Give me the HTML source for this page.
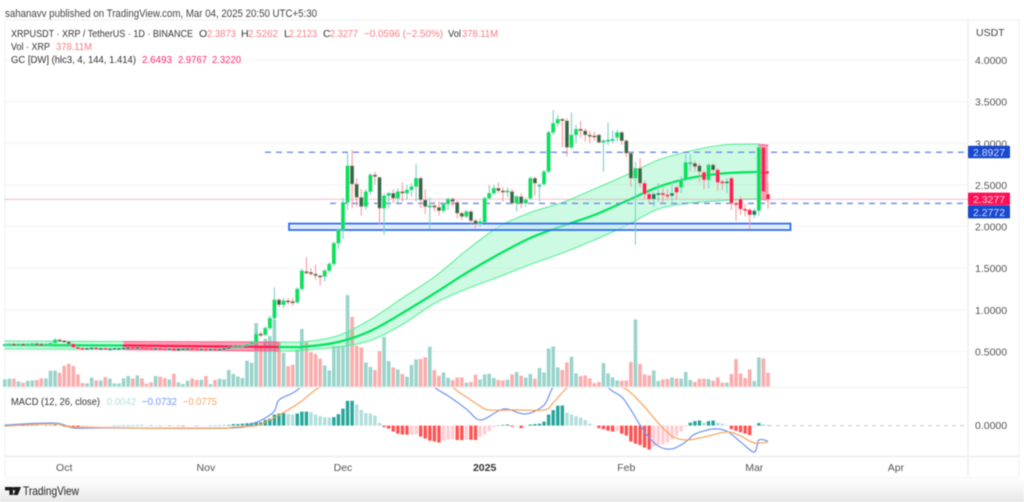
<!DOCTYPE html>
<html lang="en">
<head>
<meta charset="utf-8">
<title>XRPUSDT chart</title>
<style>
html,body{margin:0;padding:0;background:#fff;width:1024px;height:502px;overflow:hidden}
svg{display:block;filter:blur(0.5px);font-family:"Liberation Sans",sans-serif}
</style>
</head>
<body>
<svg id="chart" width="1024" height="502" viewBox="0 0 1024 502" xmlns="http://www.w3.org/2000/svg">
  <defs>
    <linearGradient id="footGrad" x1="0" y1="0" x2="0" y2="1">
      <stop offset="0" stop-color="#ffffff"/>
      <stop offset="1" stop-color="#e8e8e8"/>
    </linearGradient>
    <clipPath id="macdClip"><rect x="5" y="388" width="963" height="68"/></clipPath>
  </defs>
  <rect x="0" y="0" width="1024" height="502" fill="#ffffff"/>
  <rect x="0" y="478" width="1024" height="24" fill="url(#footGrad)"/>
  <g id="frame" stroke="#f0f0f0" fill="none">
    <line x1="5" y1="20" x2="1019" y2="20"/>
    <line x1="5" y1="20" x2="5" y2="478"/>
    <line x1="968" y1="20" x2="968" y2="478" stroke="#e8e8e8"/>
    <line x1="1019" y1="20" x2="1019" y2="478"/>
    <line x1="5" y1="387.5" x2="968" y2="387.5"/>
    <line x1="5" y1="456.5" x2="1019" y2="456.5" stroke-width="2"/>
    <line x1="5" y1="478" x2="1019" y2="478" stroke="#f5f5f5"/>
  </g>
  <g id="grid"></g>
  <g id="volume"></g>
  <g id="band"></g>
  <g id="levels">
    <line x1="265" y1="152.3" x2="968" y2="152.3" stroke="#7394ea" stroke-width="1.5" stroke-dasharray="6 5"/>
    <line x1="5" y1="199.3" x2="968" y2="199.3" stroke="#ff7fa0" stroke-width="1.2" stroke-dasharray="1 1"/>
    <line x1="330" y1="203.4" x2="968" y2="203.4" stroke="#7394ea" stroke-width="1.5" stroke-dasharray="6 5"/>
  </g>
  <rect x="289" y="223.6" width="501.5" height="6.4" fill="#cfe0ff" fill-opacity="0.5" stroke="#2f6ff0" stroke-width="1.8"/>
  <g id="candles"></g>
  <g id="hist"></g>
  <line x1="760" y1="425.6" x2="968" y2="425.6" stroke="#c8c8c8" stroke-width="1" stroke-dasharray="4 4"/>
  <g id="macdLines" clip-path="url(#macdClip)"></g>

  <text x="5" y="17" font-size="11" fill="#444" textLength="312" lengthAdjust="spacingAndGlyphs">sahanavv published on TradingView.com, Mar 04, 2025 20:50 UTC+5:30</text>

  <g font-size="10.5">
    <text x="11" y="37" fill="#333" textLength="182" lengthAdjust="spacingAndGlyphs">XRPUSDT · XRP / TetherUS · 1D · BINANCE</text>
    <text x="199" y="37" fill="#333">O</text><text x="207" y="37" fill="#f77c80" textLength="29" lengthAdjust="spacingAndGlyphs">2.3873</text>
    <text x="241" y="37" fill="#333">H</text><text x="248" y="37" fill="#f77c80" textLength="30" lengthAdjust="spacingAndGlyphs">2.5262</text>
    <text x="284" y="37" fill="#333">L</text><text x="289" y="37" fill="#f77c80" textLength="28" lengthAdjust="spacingAndGlyphs">2.2123</text>
    <text x="323" y="37" fill="#333">C</text><text x="330" y="37" fill="#f77c80" textLength="28" lengthAdjust="spacingAndGlyphs">2.3277</text>
    <text x="364" y="37" fill="#f77c80" textLength="79" lengthAdjust="spacingAndGlyphs">−0.0596 (−2.50%)</text>
    <text x="448" y="37" fill="#333" textLength="13" lengthAdjust="spacingAndGlyphs">Vol</text><text x="462" y="37" fill="#f77c80" textLength="36" lengthAdjust="spacingAndGlyphs">378.11M</text>
    <text x="11" y="50" fill="#333" textLength="39" lengthAdjust="spacingAndGlyphs">Vol · XRP</text>
    <text x="56" y="50" fill="#f77c80" textLength="36" lengthAdjust="spacingAndGlyphs">378.11M</text>
    <text x="11" y="63" fill="#333" textLength="125" lengthAdjust="spacingAndGlyphs">GC [DW] (hlc3, 4, 144, 1.414)</text>
    <text x="142" y="63" fill="#ff2a6d" textLength="30" lengthAdjust="spacingAndGlyphs">2.6493</text>
    <text x="178" y="63" fill="#ff2a6d" textLength="29" lengthAdjust="spacingAndGlyphs">2.9767</text>
    <text x="212" y="63" fill="#ff2a6d" textLength="29" lengthAdjust="spacingAndGlyphs">2.3220</text>
  </g>

  <g font-size="10.5">
    <text x="11" y="405" fill="#333" textLength="89" lengthAdjust="spacingAndGlyphs">MACD (12, 26, close)</text>
    <text x="107" y="405" fill="#b2dfdb" textLength="29" lengthAdjust="spacingAndGlyphs">0.0042</text>
    <text x="142" y="405" fill="#6f94f5" textLength="35" lengthAdjust="spacingAndGlyphs">−0.0732</text>
    <text x="183" y="405" fill="#f7a35c" textLength="34" lengthAdjust="spacingAndGlyphs">−0.0775</text>
  </g>

  <text x="976" y="36" font-size="10.5" fill="#444">USDT</text>
  <g id="priceAxis"></g>
  <g id="timeAxis"></g>

  <g font-size="10.5" text-anchor="middle">
    <rect x="968" y="145.7" width="42" height="12.6" fill="#1848cc" rx="1"/>
    <text x="989" y="156" fill="#cfdcff">2.8927</text>
    <rect x="968" y="192.6" width="42" height="12.6" fill="#ff0f55" rx="1"/>
    <text x="989" y="203" fill="#ffd0dc">2.3277</text>
    <rect x="968" y="205.4" width="42" height="13" fill="#1848cc" rx="1"/>
    <text x="989" y="216" fill="#cfdcff">2.2772</text>
  </g>

  <g>
    <path d="M5 487h8v8h-3.6v-4.6H5z M14 487h7l-3.2 8h-4.6l2.2-4.6a1.7 1.7 0 1 1-1.4-3.4z" fill="#1a1a1a"/>
    <text x="23" y="495" font-size="12" fill="#222" textLength="56" lengthAdjust="spacingAndGlyphs">TradingView</text>
  </g>
</svg>
<script>
const priceTicks = ["4.0000","3.5000","3.0000","2.5000","2.0000","1.5000","1.0000","0.5000"];
const macdTicks = ["0.0000"];
const timeLabels = ["Oct","Nov","Dec","2025","Feb","Mar","Apr"];
const timeLabelDays = [13,44,74,105,136,164,195];

const opens = [
.58,.585,.59,.585,.59,.585,.59,.595,.59,.585,
.59,.60,.64,.63,.615,.59,.55,.54,.535,.54,
.545,.54,.54,.535,.535,.54,.54,.545,.55,.545,
.55,.545,.54,.535,.54,.535,.53,.535,.51,.535,
.535,.54,.535,.52,.53,.525,.53,.525,.53,.54,
.55,.56,.56,.57,.585,.61,.71,.70,.78,.90,
1.12,1.06,1.11,1.10,1.09,1.25,1.46,1.45,1.43,1.41,
1.40,1.47,1.55,1.80,1.96,2.29,2.73,2.51,2.35,2.24,
2.42,2.62,2.59,2.22,2.37,2.40,2.34,2.42,2.40,2.44,
2.48,2.58,2.32,2.24,2.25,2.23,2.19,2.27,2.33,2.29,
2.16,2.12,2.18,2.07,2.03,2.05,2.34,2.40,2.46,2.43,
2.42,2.42,2.28,2.36,2.28,2.34,2.58,2.49,2.51,2.66,
3.13,3.24,3.29,3.27,2.95,3.10,3.17,3.15,3.10,3.09,
3.10,3.01,3.03,3.03,3.07,3.13,3.03,2.88,2.58,2.70,
2.52,2.39,2.33,2.39,2.40,2.38,2.37,2.47,2.47,2.56,
2.76,2.76,2.73,2.65,2.56,2.74,2.68,2.54,2.53,2.58,
2.28,2.33,2.21,2.20,2.14,2.19,2.95,2.3873];
const highs = [
.595,.60,.60,.60,.60,.60,.605,.605,.60,.60,
.61,.66,.655,.635,.62,.59,.56,.55,.55,.555,
.555,.55,.55,.545,.55,.55,.555,.56,.56,.56,
.56,.555,.55,.55,.55,.545,.54,.545,.525,.545,
.55,.55,.545,.535,.54,.535,.54,.54,.55,.56,
.58,.58,.59,.60,.63,.75,.74,.80,.93,1.27,
1.14,1.14,1.14,1.14,1.27,1.49,1.63,1.50,1.54,1.42,
1.49,1.57,1.82,1.98,2.34,2.88,2.92,2.58,2.45,2.45,
2.64,2.66,2.60,2.40,2.42,2.45,2.46,2.53,2.50,2.52,
2.75,2.60,2.45,2.35,2.30,2.30,2.29,2.35,2.35,2.31,
2.18,2.20,2.20,2.10,2.10,2.36,2.50,2.50,2.53,2.47,
2.47,2.45,2.38,2.40,2.35,2.60,2.60,2.52,2.68,3.15,
3.40,3.34,3.30,3.30,3.37,3.22,3.27,3.18,3.15,3.14,
3.11,3.05,3.25,3.15,3.16,3.15,3.05,2.90,2.78,2.82,
2.55,2.41,2.42,2.52,2.46,2.45,2.54,2.49,2.60,2.87,
2.87,2.79,2.76,2.67,2.76,2.76,2.70,2.56,2.58,2.60,
2.31,2.36,2.27,2.22,2.22,3.00,2.97,2.5262];
const lows = [
.57,.575,.575,.575,.575,.575,.58,.58,.575,.575,
.585,.595,.62,.605,.58,.54,.53,.525,.525,.53,
.53,.53,.525,.525,.525,.53,.53,.535,.535,.535,
.535,.53,.525,.525,.525,.52,.52,.505,.50,.525,
.525,.525,.51,.51,.515,.515,.515,.515,.52,.53,
.54,.55,.55,.56,.57,.60,.67,.68,.76,.88,
1.03,1.02,1.06,1.05,1.07,1.23,1.42,1.41,1.36,1.29,
1.34,1.44,1.52,1.73,1.85,2.20,2.22,2.24,2.13,2.20,
2.38,2.50,2.02,1.90,2.22,2.28,2.28,2.30,2.32,2.36,
2.30,2.22,2.15,1.97,2.18,2.13,2.16,2.20,2.24,2.10,
2.08,2.10,2.03,1.98,2.00,2.04,2.32,2.38,2.40,2.30,
2.35,2.26,2.18,2.22,2.24,2.32,2.37,2.30,2.49,2.64,
3.10,3.20,2.95,2.84,2.93,3.00,3.06,3.02,3.00,3.03,
3.00,2.66,2.98,3.00,3.02,2.98,2.83,2.48,1.78,2.47,
2.33,2.28,2.24,2.30,2.28,2.31,2.30,2.33,2.40,2.54,
2.66,2.66,2.53,2.45,2.46,2.65,2.43,2.44,2.40,2.20,
2.07,2.14,2.12,1.97,2.10,2.13,2.39,2.2123];
const closes = [
.585,.59,.585,.59,.585,.59,.595,.59,.585,.59,
.60,.64,.63,.615,.59,.55,.54,.535,.54,.545,
.54,.54,.535,.535,.54,.54,.545,.55,.545,.55,
.545,.54,.535,.54,.535,.53,.535,.51,.535,.535,
.54,.535,.52,.53,.525,.53,.525,.53,.54,.55,
.56,.56,.57,.585,.61,.71,.70,.78,.90,1.12,
1.06,1.11,1.10,1.09,1.25,1.47,1.45,1.43,1.41,1.39,
1.47,1.55,1.80,1.96,2.29,2.73,2.51,2.35,2.24,2.42,
2.62,2.60,2.22,2.37,2.40,2.34,2.42,2.40,2.44,2.48,
2.58,2.32,2.24,2.25,2.23,2.19,2.27,2.33,2.30,2.16,
2.12,2.18,2.07,2.03,2.06,2.34,2.40,2.46,2.43,2.42,
2.43,2.28,2.36,2.28,2.32,2.58,2.52,2.50,2.66,3.13,
3.24,3.29,3.27,2.95,3.10,3.17,3.15,3.10,3.09,3.08,
3.01,3.03,3.04,3.05,3.13,3.03,2.88,2.58,2.70,2.52,
2.39,2.33,2.39,2.40,2.38,2.37,2.40,2.41,2.56,2.77,
2.77,2.72,2.66,2.56,2.74,2.68,2.53,2.53,2.54,2.28,
2.26,2.21,2.20,2.14,2.19,2.95,2.42,2.3277];

const volumesM = [
197,216,216,143,108,162,170,181,224,224,
432,432,378,567,621,559,332,100,89,243,
170,170,262,216,89,89,224,289,224,305,
224,81,116,289,270,235,197,351,116,73,
162,224,181,189,289,73,181,216,197,451,
343,278,235,702,648,1720,1099,1296,1369,1817,
1207,918,559,594,1007,1558,1207,937,883,756,
575,440,1099,1099,1099,2476,
1890,1107,1061,656,532,451,964,1350,694,521,
467,343,270,586,737,748,791,1080,451,297,
386,243,181,251,251,108,127,324,197,332,
351,235,181,170,189,332,397,297,243,343,
216,505,386,1034,1088,521,451,656,810,359,
289,305,224,100,127,640,359,251,170,162,
170,667,1817,613,332,305,440,154,197,208,
251,224,216,397,181,127,216,216,208,162,
251,108,108,343,748,359,235,467,154,791,
764,378];

const bandDays =  [0,26,60,66,73,80,87,94,101,108,115,122,129,136,143,150,157,164,165,167];
const bandBasis = [.577,.571,.553,.559,.613,.745,.961,1.196,1.442,1.664,1.862,2.006,2.138,2.306,2.475,2.583,2.637,2.655,2.652,2.6493];
const bandUpper = [.625,.619,.613,.619,.691,.883,1.142,1.394,1.712,1.994,2.168,2.288,2.451,2.619,2.799,2.907,2.979,2.991,2.985,2.9767];
const bandLower = [.529,.523,.505,.517,.553,.631,.823,1.075,1.250,1.394,1.544,1.682,1.838,2.012,2.210,2.282,2.312,2.330,2.325,2.3220];
const bandBearishSpans = [[26,60],[165,167]];

const macdHistMilli = [
1,1,0,-1,0,1,1,1,0,1,
2,4,3,-1,-3,-5,-6,-6,-5,-4,
-3,-2,-1,-1,0,1,1,1,1,2,
2,1,1,0,-1,-1,-2,-1,-2,-3,
-2,-1,-2,-1,-1,0,0,1,2,3,
7,7,9,11,13,16,16,27,33,52,
57,59,55,52,57,66,66,64,52,45,
40,38,40,54,80,117,117,99,75,59,
57,47,12,-7,-14,-28,-38,-42,-43,-42,
-41,-52,-61,-71,-75,-80,-71,-66,-65,-68,
-69,-66,-67,-68,-52,-42,-26,-7,0,3,
5,-5,-3,-12,-2,5,7,9,19,52,
73,94,95,61,52,45,38,26,9,2,
-12,-17,-24,-28,-27,-38,-47,-75,-85,-92,
-104,-113,-99,-90,-89,-80,-66,-47,-28,-5,
14,21,24,14,21,24,14,9,2,-17,
-24,-31,-38,-45,-5,12,6,4.2];

const macdDays = [0,11,15,22,49,54,57,59,60,63,65,70,85,90,94,97,101,104,108,110,114,118,120,124,130,132,135,137,140,143,146,149,151,155,158,161,164,165,167];
const macdMilli = [3,12,-11,-11,-11,8,36,69,121,154,187,300,360,280,182,140,78,26,69,78,55,97,182,280,290,182,135,74,-30,-96,-110,-77,-40,-16,-26,-77,-125,-68,-73.2];
const signalDays = [0,11,16,45,50,55,57,60,62,65,69,80,95,98,101,104,106,112,118,120,123,128,135,137,140,143,146,149,153,158,161,164,167];
const signalMilli = [-2,8,-7,-14,-7,0,17,50,74,116,182,300,270,182,135,92,74,74,74,107,177,250,182,154,88,12,-49,-68,-54,-30,-49,-82,-77.5];

const SVGNS = "http://www.w3.org/2000/svg";
const xOf = function (day) { return 4.8 + day * 4.57; };
const yPrice = function (p) { return 60 + (4 - p) * 83.26; };
const yVol = function (m) { return 386.7 - m * 0.037; };
const yMacd = function (milli) { return 425.6 - milli * 0.212; };

function mk(tag, parent) {
  const el = document.createElementNS(SVGNS, tag);
  parent.appendChild(el);
  return el;
}
function basisAt(day) {
  for (let k = 0; k < bandDays.length - 1; k++) {
    if (day <= bandDays[k + 1]) {
      const t = (day - bandDays[k]) / (bandDays[k + 1] - bandDays[k]);
      return bandBasis[k] + t * (bandBasis[k + 1] - bandBasis[k]);
    }
  }
  return bandBasis[bandBasis.length - 1];
}
/* Catmull-Rom control points for the curve between pts[k] and pts[k+1] */
function ctrl(pts, k) {
  const p0 = pts[Math.max(0, k - 1)], p1 = pts[k], p2 = pts[k + 1], p3 = pts[Math.min(pts.length - 1, k + 2)];
  return [p1[0] + (p2[0] - p0[0]) / 6, p1[1] + (p2[1] - p0[1]) / 6, p2[0] - (p3[0] - p1[0]) / 6, p2[1] - (p3[1] - p1[1]) / 6];
}
function curveTo(pts, k) {
  const c = ctrl(pts, k);
  return "C" + c[0] + " " + c[1] + " " + c[2] + " " + c[3] + " " + pts[k + 1][0] + " " + pts[k + 1][1];
}
function curveBack(pts, k) {
  const c = ctrl(pts, k);
  return "C" + c[2] + " " + c[3] + " " + c[0] + " " + c[1] + " " + pts[k][0] + " " + pts[k][1];
}
function fullCurve(pts) {
  let d = "M" + pts[0][0] + " " + pts[0][1];
  for (let k = 0; k < pts.length - 1; k++) { d += curveTo(pts, k); }
  return d;
}

const gridG = document.getElementById("grid");
const priceAxisG = document.getElementById("priceAxis");
priceTicks.forEach(function (label) {
  const y = yPrice(parseFloat(label));
  const ln = mk("line", gridG);
  
  
  ln.setAttribute("x1", 5); ln.setAttribute("x2", 968);
  ln.setAttribute("y1", y); ln.setAttribute("y2", y);
  ln.setAttribute("stroke", "#f3f3f3");
  const t = mk("text", priceAxisG);
  
  
  t.setAttribute("x", 975); t.setAttribute("y", y + 4);
  t.setAttribute("font-size", "10.5"); t.setAttribute("fill", "#555");
  t.textContent = label;
});
macdTicks.forEach(function (label) {
  const t = mk("text", priceAxisG);
  
  
  t.setAttribute("x", 975); t.setAttribute("y", yMacd(parseFloat(label)) + 3.5);
  t.setAttribute("font-size", "10.5"); t.setAttribute("fill", "#555");
  t.textContent = label;
});

const timeG = document.getElementById("timeAxis");
timeLabels.forEach(function (label, i) {
  const t = mk("text", timeG);
  
  
  t.setAttribute("x", xOf(timeLabelDays[i])); t.setAttribute("y", 471);
  t.setAttribute("text-anchor", "middle"); t.setAttribute("font-size", "10.5");
  t.setAttribute("fill", label === "2025" ? "#333" : "#555");
  if (label === "2025") { t.setAttribute("font-weight", "bold"); }
  t.textContent = label;
});

const volG = document.getElementById("volume");
volumesM.forEach(function (m, i) {
  const r = mk("rect", volG);
  
  
  const top = yVol(m);
  r.setAttribute("x", xOf(i) - 1.8); r.setAttribute("width", 3.6);
  r.setAttribute("y", top); r.setAttribute("height", 386.7 - top);
  r.setAttribute("fill", closes[i] >= opens[i] ? "#93d2c9" : "#fba9a9");
  r.setAttribute("fill-opacity", "0.95");
});

const bandG = document.getElementById("band");
function isBearishStart(day) {
  return bandBearishSpans.some(function (s) { return day >= s[0] && day < s[1]; });
}
const upperPts = bandDays.map(function (d, i) { return [xOf(d), yPrice(bandUpper[i])]; });
const lowerPts = bandDays.map(function (d, i) { return [xOf(d), yPrice(bandLower[i])]; });
const basisPts = bandDays.map(function (d, i) { return [xOf(d), yPrice(bandBasis[i])]; });
for (let k = 0; k < bandDays.length - 1; k++) {
  const bear = isBearishStart(bandDays[k]);
  const edge = bear ? "#ff5f86" : "#5cf09a";
  const fill = bear ? "rgba(255,40,90,0.45)" : "rgba(0,230,110,0.2)";
  const mid = bear ? "#ff1a50" : "#00e65c";
  const poly = mk("path", bandG);
  
  
  poly.setAttribute("d", "M" + upperPts[k][0] + " " + upperPts[k][1] + curveTo(upperPts, k) + "L" + lowerPts[k + 1][0] + " " + lowerPts[k + 1][1] + curveBack(lowerPts, k) + "Z");
  poly.setAttribute("fill", fill);
  [upperPts, lowerPts].forEach(function (pts) {
    const l = mk("path", bandG);
    
    
    l.setAttribute("d", "M" + pts[k][0] + " " + pts[k][1] + curveTo(pts, k));
    l.setAttribute("fill", "none");
    l.setAttribute("stroke", edge); l.setAttribute("stroke-width", "1.1");
    l.setAttribute("stroke-linecap", "round");
  });
  const m = mk("path", bandG);
  
  
  m.setAttribute("d", "M" + basisPts[k][0] + " " + basisPts[k][1] + curveTo(basisPts, k));
  m.setAttribute("fill", "none");
  m.setAttribute("stroke", mid); m.setAttribute("stroke-width", "2.2");
  m.setAttribute("stroke-linecap", "round");
}

const candleG = document.getElementById("candles");
closes.forEach(function (c, i) {
  const o = opens[i], up = c >= o, above = c >= basisAt(i);
  const x = xOf(i);
  const edge = up ? "#7fd0c6" : "#f99c9c";
  const w = mk("line", candleG);
  
  
  w.setAttribute("x1", x); w.setAttribute("x2", x);
  w.setAttribute("y1", yPrice(highs[i])); w.setAttribute("y2", yPrice(lows[i]));
  w.setAttribute("stroke", edge); w.setAttribute("stroke-width", "1.1");
  const b = mk("rect", candleG);
  
  
  const top = yPrice(Math.max(o, c));
  const h = Math.max(1.6, Math.abs(yPrice(o) - yPrice(c)));
  b.setAttribute("x", x - 1.8); b.setAttribute("width", 3.6);
  b.setAttribute("y", top); b.setAttribute("height", h);
  let fill = "#1f6f4a";
  if (up && above) { fill = "#00e64d"; }
  if (!up && !above) { fill = "#ff1a50"; }
  b.setAttribute("fill", fill);
  b.setAttribute("stroke", edge); b.setAttribute("stroke-width", "0.5");
});

const histG = document.getElementById("hist");
macdHistMilli.forEach(function (v, i) {
  const prev = i > 0 ? macdHistMilli[i - 1] : 0;
  const rising = v >= prev;
  const r = mk("rect", histG);
  
  
  const y0 = yMacd(0), y1 = yMacd(v);
  r.setAttribute("x", xOf(i) - 1.7); r.setAttribute("width", 3.4);
  r.setAttribute("y", Math.min(y0, y1)); r.setAttribute("height", Math.max(0.4, Math.abs(y1 - y0)));
  let fill;
  if (v >= 0) { fill = rising ? "#26a69a" : "#b2dfdb"; } else { fill = rising ? "#ffcdd2" : "#ff5252"; }
  r.setAttribute("fill", fill);
});

const linesG = document.getElementById("macdLines");
const macdPath = mk("path", linesG);


macdPath.setAttribute("d", fullCurve(macdDays.map(function (d, i) { return [xOf(d), yMacd(macdMilli[i])]; })));
macdPath.setAttribute("fill", "none"); macdPath.setAttribute("stroke", "#6f94f5");
macdPath.setAttribute("stroke-width", "1.2"); macdPath.setAttribute("stroke-linejoin", "round");
const sigPath = mk("path", linesG);


sigPath.setAttribute("d", fullCurve(signalDays.map(function (d, i) { return [xOf(d), yMacd(signalMilli[i])]; })));
sigPath.setAttribute("fill", "none"); sigPath.setAttribute("stroke", "#f7a35c");
sigPath.setAttribute("stroke-width", "1.2"); sigPath.setAttribute("stroke-linejoin", "round");
</script>
</body>
</html>
